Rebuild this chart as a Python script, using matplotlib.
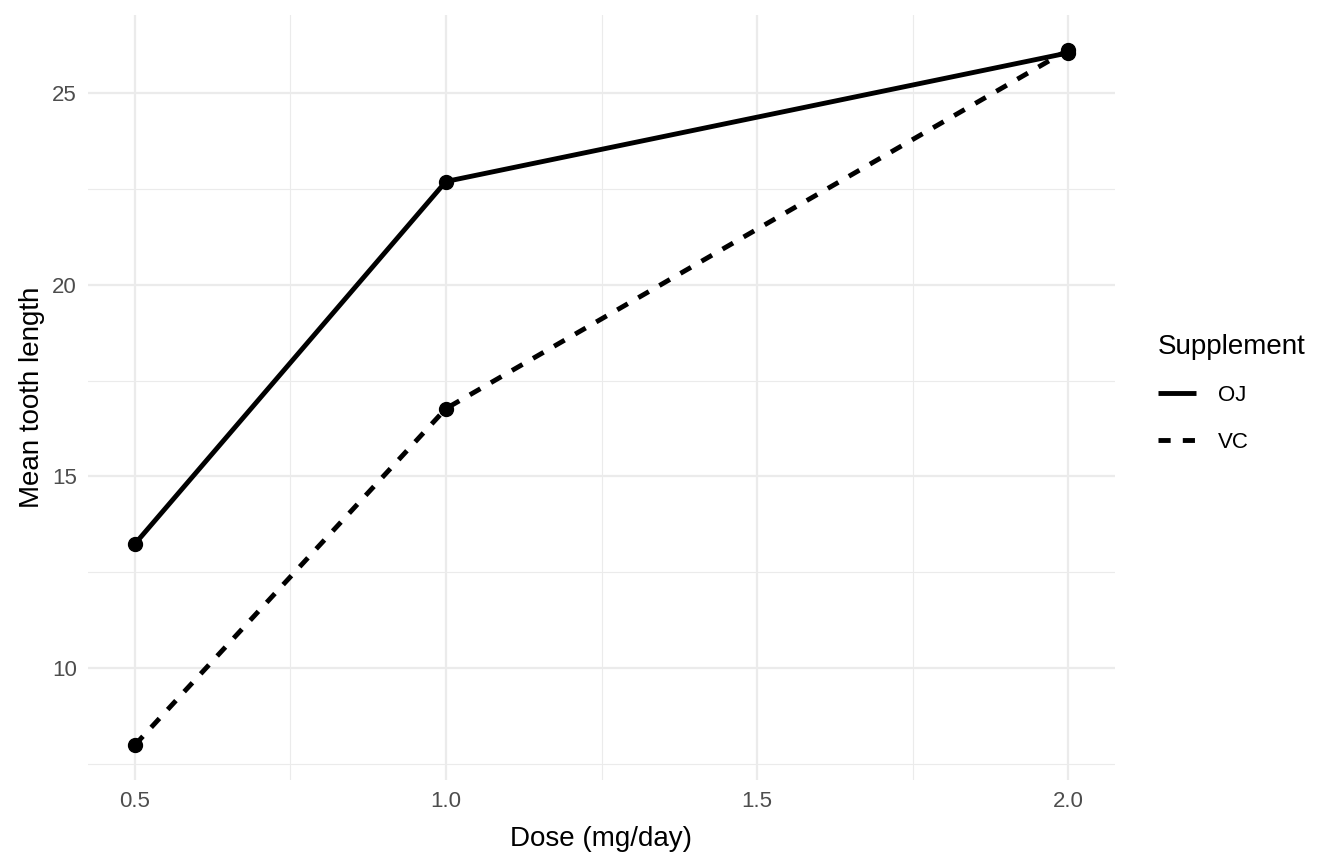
import matplotlib
matplotlib.use("Agg")
import matplotlib.pyplot as plt
from matplotlib.ticker import MultipleLocator

plt.rcParams['font.family'] = ['Liberation Sans', 'DejaVu Sans']

dose = [0.5, 1.0, 2.0]
supplements = ["OJ", "VC"]
oj_mean = [13.23, 22.70, 26.06]
vc_mean = [7.98, 16.77, 26.14]
x_ticks = [0.5, 1.0, 1.5, 2.0]
x_tick_labels = ["0.5", "1.0", "1.5", "2.0"]
y_ticks = [10, 15, 20, 25]

fig = plt.figure(figsize=(13.44, 8.64), dpi=100)
ax = fig.add_axes([88/1344, 84/864, (1115-88)/1344, (780-15)/864])

grid_col = '#EBEBEB'
ax.set_xlim(0.425, 2.075)
allv = oj_mean + vc_mean
rng = max(allv) - min(allv)
ax.set_ylim(min(allv) - 0.05*rng, max(allv) + 0.05*rng)
ax.set_xticks(x_ticks)
ax.set_xticklabels(x_tick_labels)
ax.set_yticks(y_ticks)
ax.xaxis.set_minor_locator(MultipleLocator(0.25))
ax.yaxis.set_minor_locator(MultipleLocator(2.5))
ax.grid(which='major', color=grid_col, linewidth=1.6)
ax.grid(which='minor', color=grid_col, linewidth=0.8)
ax.set_axisbelow(True)
for s in ax.spines.values():
    s.set_visible(False)
ax.tick_params(which='both', length=0, labelsize=16, labelcolor='#4D4D4D', pad=8)

l1, = ax.plot(dose, oj_mean, color='black', lw=3.5, solid_capstyle='butt', label=supplements[0])
l2, = ax.plot(dose, vc_mean, color='black', lw=3.5, linestyle=(0, (2.5, 2.5)), label=supplements[1])
ax.plot(dose, oj_mean, 'o', color='black', markersize=10, zorder=5)
ax.plot(dose, vc_mean, 'o', color='black', markersize=10, zorder=5)

ax.set_xlabel("Dose (mg/day)", fontsize=20, labelpad=10)
ax.set_ylabel("Mean tooth length", fontsize=20, labelpad=5)

leg = fig.legend(handles=[l1, l2], labels=supplements, title="Supplement",
                 loc='center left', bbox_to_anchor=(1138/1344, 0.545),
                 frameon=False, fontsize=16, title_fontsize=20,
                 handlelength=1.7, handletextpad=1.0, labelspacing=1.15)
leg._legend_box.align = 'left'

fig.savefig("out.png", dpi=100, facecolor='white')
